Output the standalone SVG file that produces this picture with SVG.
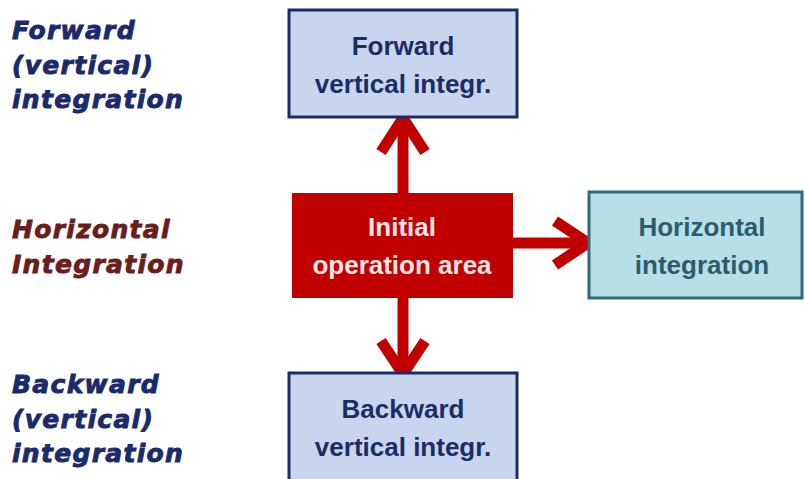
<svg xmlns="http://www.w3.org/2000/svg" width="805" height="479" viewBox="0 0 805 479">
  <defs>
    <style>
      .side { font-family: "DejaVu Sans", Verdana, sans-serif; font-weight: bold; font-style: italic; font-size: 25px; letter-spacing: 1.3px; stroke-width: 0.9px; }
      .blue { fill: #1a2a6c; stroke: #1a2a6c; }
      .maroon { fill: #6a1d1d; stroke: #6a1d1d; }
      .boxtxt { font-family: "Liberation Sans", Arial, sans-serif; font-weight: bold; font-size: 26px; text-anchor: middle; }
      .vbox { fill: #c7d6ee; stroke: #1b2d66; stroke-width: 3; }
      .hbox { fill: #b8dee8; stroke: #2f6b78; stroke-width: 3; }
      .core { fill: #c00000; }
      .conn { stroke: #c00000; stroke-width: 11; fill: none; stroke-linecap: butt; stroke-linejoin: miter; }
    </style>
  </defs>
  <rect width="805" height="479" fill="#ffffff"/>

  <!-- side labels -->
  <g id="label-forward" class="side blue">
    <text x="12" y="39">Forward</text>
    <text x="12" y="74">(vertical)</text>
    <text x="12" y="108">integration</text>
  </g>
  <g id="label-horizontal" class="side maroon">
    <text x="12" y="238">Horizontal</text>
    <text x="12" y="273">Integration</text>
  </g>
  <g id="label-backward" class="side blue">
    <text x="12" y="393">Backward</text>
    <text x="12" y="428">(vertical)</text>
    <text x="12" y="462">integration</text>
  </g>

  <!-- connectors -->
  <g id="connectors" class="conn">
    <path d="M403,193 V116"/>
    <path d="M381,152 L403,118 L425,152"/>
    <path d="M403,298 V374"/>
    <path d="M381,341 L403,374 L425,341"/>
    <path d="M513,243 H588"/>
    <path d="M555,221 L588,243 L555,265"/>
  </g>

  <!-- nodes -->
  <g id="node-forward">
    <rect class="vbox" x="289" y="10" width="228" height="107"/>
    <text class="boxtxt" x="403" y="55" fill="#1b2d66">Forward</text>
    <text class="boxtxt" x="403" y="93" fill="#1b2d66">vertical integr.</text>
  </g>
  <g id="node-initial">
    <rect class="core" x="292" y="193" width="221" height="105"/>
    <text class="boxtxt" x="402" y="236" fill="#f6e4e4">Initial</text>
    <text class="boxtxt" x="402" y="274" fill="#f6e4e4">operation area</text>
  </g>
  <g id="node-horizontal">
    <rect class="hbox" x="589" y="192" width="213" height="106"/>
    <text class="boxtxt" x="702" y="236" fill="#2a5e6c">Horizontal</text>
    <text class="boxtxt" x="702" y="274" fill="#2a5e6c">integration</text>
  </g>
  <g id="node-backward">
    <rect class="vbox" x="289" y="373" width="228" height="110"/>
    <text class="boxtxt" x="403" y="418" fill="#1b2d66">Backward</text>
    <text class="boxtxt" x="403" y="456" fill="#1b2d66">vertical integr.</text>
  </g>
</svg>
